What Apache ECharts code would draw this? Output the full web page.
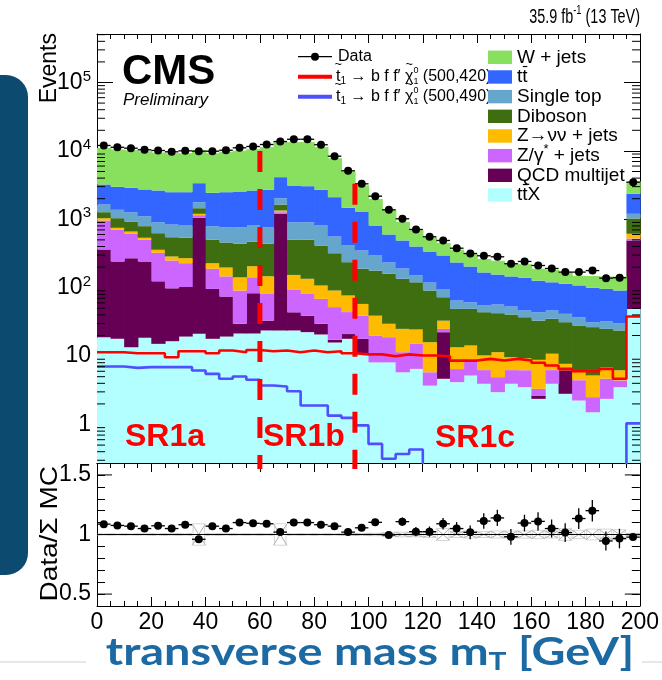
<!DOCTYPE html>
<html><head><meta charset="utf-8">
<script src="https://cdn.jsdelivr.net/npm/echarts@6/dist/echarts.min.js"></script>
<style>html,body{margin:0;padding:0;background:#fff;}#chart{width:662px;height:680px;}</style>
</head><body><div id="chart"></div>
<script>
// ================= DATA =================
const binLow = [0,5,10,15,20,25,30,35,40,45,50,55,60,65,70,75,80,85,90,95,100,105,110,115,120,125,130,135,140,145,150,155,160,165,170,175,180,185,190,195];
const binWidth = 5;
const dataEvents = [12000,11300,10950,10380,10140,9700,10020,9900,9900,10230,11100,11600,12400,13700,14800,14800,12300,8370,5120,3300,2180,1377,1017,710,555,490,378,316,293,283,224,242,211,191,169,169,178,138,140,3490];
// background components (stack order bottom -> top)
const ttX       = [18.9,17.9,13.5,18.5,15.1,16.5,19.3,21.2,17.9,19.3,21.4,21.4,23.7,23.7,23.7,22.4,20.7,15.8,17.9,10.8,8.1,8.1,5.8,6.5,3.7,4.66,4.16,5.2,3.94,2.97,3.94,3.51,2.37,3.94,2.81,2.24,1.51,2.37,3.51,49];
const qcd       = [343,224,256,224,109,81.5,83,1031,78,55,8.3,61.6,9.3,1176,20,16.6,9,1.5,3.1,7.1,0,0,0,0,0,17.7,0,0,0,0,0,0,0.28,0,3.4,0,0,0,0,441];
const zgamma    = [598,468,350,260,200,152,126,96,93,72,61,59,48,70,49,42,39,34.7,23,21,11.9,10.8,5.6,8.6,2.1,2.6,2.3,3.4,2.3,1.95,2.3,2.7,0.67,2.3,0,2.2,1.0,2.3,0.9,34];
const znunu     = [78,41,43,35,34,36,42,55,39,51,51,64,66,75,61,54,39,39,33,19,19,10.8,13.6,9.4,10.2,8,7,5.7,4,6.5,3.4,3.1,5.5,4.6,1.5,1.8,2.7,2.2,1.8,90];
const diboson   = [232,287,266,256,268,261,267,249,274,261,296,267,291,300,348,367,306,228,159,132,139,130,110,95.5,75,39.6,35.5,34.7,33.6,31,30.9,27.7,24.2,24.2,23.6,21.8,21.3,18.1,17.5,414];
const singleTop = [375,339,341,317,281,292,274,326,291,309,329,338,329,388,405,405,397,242,178,160,118,74,56,31,28,21.4,16,12,11.2,14.4,12.5,9.4,10.8,11.4,10.2,9,4.8,7.4,6.6,175];
const ttbar     = [1583,1608,1620,1620,1730,1651,1679,1594,1647,1723,1781,1826,1933,2097,2213,2141,1889,1544,1059,950,515,366,299,249,219,202,169,143,112,99,93,93.6,83,73.6,72.5,71,68.7,63.6,60.7,1157];
const wjets     = [7812,7515,7340,7160,6813,6750,6770,6938,6810,7250,7542,7963,8680,9300,10330,10400,8670,5715,3547,1825,1169,783,428,293,204,154,126,106,96,92,82,81,63,62,52,41,48,50,54,1210];
// signals
const sig500_420 = [11.4,11.4,11.0,11.0,11.0,9.6,11.8,11.8,11.0,12.1,11.4,12.3,11.8,12.1,11.4,12.1,11.4,11.8,11.0,10.6,10.6,9.95,10.6,10.2,10.2,9.95,8.6,8.6,9.1,8.6,9.1,8.6,8.0,7.3,6.5,6.0,6.0,6.5,4.66,38];
const sig500_490 = [7.05,7.05,6.73,6.9,6.9,6.9,6.9,6.16,5.5,4.66,5.03,4.5,3.72,3.59,3.07,1.9,1.9,1.35,1.25,0.97,0.52,0.315,0.37,0.43,0.12,0.12,0.12,0.12,0.12,0.12,0.12,0.12,0.12,0.12,0.12,0.12,0.12,0.12,0.12,1.04];
// ratio panel
const ratio    = [1.087,1.076,1.07,1.05,1.073,1.05,1.082,0.96,1.07,1.05,1.10,1.094,1.09,1.02,1.10,1.10,1.082,1.07,1.02,1.056,1.102,0.996,1.108,1.024,1.024,1.09,1.05,1.018,1.113,1.139,0.981,1.096,1.11,1.05,1.016,1.134,1.20,0.946,0.966,0.978];
const ratioErr = [0.01,0.01,0.01,0.01,0.01,0.01,0.01,0.01,0.01,0.01,0.01,0.01,0.01,0.01,0.01,0.01,0.01,0.012,0.014,0.018,0.024,0.027,0.035,0.038,0.043,0.049,0.054,0.057,0.065,0.068,0.066,0.07,0.076,0.076,0.078,0.087,0.09,0.08,0.082,0.017];
const mcRelUnc = [0.004,0.004,0.004,0.004,0.005,0.005,0.005,0.09,0.005,0.005,0.005,0.005,0.005,0.09,0.005,0.005,0.005,0.005,0.006,0.008,0.01,0.015,0.02,0.02,0.025,0.05,0.025,0.03,0.025,0.03,0.03,0.03,0.035,0.03,0.05,0.035,0.045,0.045,0.04,0.01];
// region boundaries [x, top of dashed line]
const regionLines = [[60, 10000],[95, 3300]];
const regionLabels = ['SR1a','SR1b','SR1c'];
const xTickLabels = [0,20,40,60,80,100,120,140,160,180,200];

// ================= STYLE =================
const F = '"Liberation Sans", Arial, Helvetica, sans-serif';
const yMin = 0.2736, yMax = 511700;
const colors = {ttX:'#b3ffff', qcd:'#660055', zgamma:'#cc66ff', znunu:'#ffbb00', diboson:'#3e6e10', singleTop:'#66a6cc', ttbar:'#3366ff', wjets:'#88e05e'};

const comps = [
  ['ttX', ttX], ['qcd', qcd], ['zgamma', zgamma], ['znunu', znunu],
  ['diboson', diboson], ['singleTop', singleTop], ['ttbar', ttbar], ['wjets', wjets]
];

const series = [];
let lower = binLow.map(() => yMin);
comps.forEach(([name, vals]) => {
  const upper = lower.map((l, i) => (l === yMin ? 0 : l) + vals[i]);
  const fixedUpper = upper.map((u, i) => Math.max(u, lower[i]));
  const data = binLow.map((x, i) => [x, x + binWidth, lower[i], fixedUpper[i]]);
  series.push({
    type: 'custom', name, xAxisIndex: 0, yAxisIndex: 0, silent: true, data,
    encode: {x: [0, 1], y: [2, 3]},
    renderItem(params, api) {
      const lo = api.value(2), hi = api.value(3);
      if (!(hi > lo)) return null;
      const a = api.coord([api.value(0), hi]);
      const b = api.coord([api.value(1), Math.max(lo, yMin)]);
      return {type: 'rect', shape: {x: a[0], y: a[1], width: b[0] - a[0] + 0.7, height: b[1] - a[1]}, style: {fill: colors[name]}};
    }
  });
  lower = fixedUpper;
});

function stepPoints(vals) {
  const pts = [];
  binLow.forEach((x, i) => { pts.push([x, vals[i]]); pts.push([x + binWidth, vals[i]]); });
  return pts;
}
series.push({type: 'line', xAxisIndex: 0, yAxisIndex: 0, data: stepPoints(sig500_420), symbol: 'none', silent: true,
  lineStyle: {color: '#ff0000', width: 2.6}, clip: true});
series.push({type: 'line', xAxisIndex: 0, yAxisIndex: 0, data: stepPoints(sig500_490), symbol: 'none', silent: true,
  lineStyle: {color: '#4f4fff', width: 2.6}, clip: true});

regionLines.forEach(([x, top]) => {
  series.push({type: 'line', xAxisIndex: 0, yAxisIndex: 0, data: [[x, top], [x, yMin]], symbol: 'none', silent: true,
    lineStyle: {color: '#ff0000', width: 5, type: [21, 17]}, clip: true});
  series.push({type: 'line', xAxisIndex: 1, yAxisIndex: 2, data: [[x, 1.6], [x, 1.55]], symbol: 'none', silent: true,
    lineStyle: {color: '#ff0000', width: 5}});
});

series.push({
  type: 'custom', name: 'Data', xAxisIndex: 0, yAxisIndex: 0, silent: true,
  data: binLow.map((x, i) => [x, x + binWidth, dataEvents[i]]), encode: {x: [0, 1], y: 2},
  renderItem(params, api) {
    const x0 = api.value(0), x1 = api.value(1), v = api.value(2);
    const l = api.coord([x0, v]), r = api.coord([x1, v]), c = api.coord([(x0 + x1) / 2, v]);
    return {type: 'group', children: [
      {type: 'line', shape: {x1: l[0], y1: l[1], x2: r[0], y2: r[1]}, style: {stroke: '#000', lineWidth: 1.3}},
      {type: 'circle', shape: {cx: c[0], cy: c[1], r: 4}, style: {fill: '#000'}}
    ]};
  }
});

const minorVals = [];
for (let k = -1; k <= 5; k++) for (let m = 2; m <= 9; m++) { const v = m * Math.pow(10, k); if (v > yMin && v < yMax) minorVals.push(v); }
series.push({
  type: 'custom', xAxisIndex: 0, yAxisIndex: 0, silent: true, z: 5, data: minorVals.map(v => [0, v]), encode: {x: 0, y: 1},
  renderItem(params, api) {
    const v = api.value(1); const l = api.coord([0, v]), r = api.coord([200, v]);
    return {type: 'group', children: [
      {type: 'line', shape: {x1: l[0], y1: l[1], x2: l[0] + 8, y2: l[1]}, style: {stroke: '#000', lineWidth: 1}},
      {type: 'line', shape: {x1: r[0], y1: r[1], x2: r[0] - 8, y2: r[1]}, style: {stroke: '#000', lineWidth: 1}}
    ]};
  }
});

series.push({
  type: 'custom', xAxisIndex: 1, yAxisIndex: 2, silent: true,
  data: binLow.map((x, i) => [x, x + binWidth, mcRelUnc[i]]), encode: {x: [0, 1], y: 2},
  renderItem(params, api) {
    const u = api.value(2);
    const a = api.coord([api.value(0), 1 + u]), b = api.coord([api.value(1), 1 - u]);
    return {type: 'group', children: [
      {type: 'line', shape: {x1: a[0], y1: a[1], x2: b[0], y2: b[1]}, style: {stroke: '#999', lineWidth: 0.8}},
      {type: 'line', shape: {x1: a[0], y1: b[1], x2: b[0], y2: a[1]}, style: {stroke: '#999', lineWidth: 0.8}},
      {type: 'rect', shape: {x: a[0] + 1, y: a[1], width: b[0] - a[0] - 2, height: b[1] - a[1]}, style: {fill: 'none', stroke: '#bbb', lineWidth: 0.6}}
    ]};
  }
});
series.push({type: 'line', xAxisIndex: 1, yAxisIndex: 2, data: [[0, 1], [200, 1]], symbol: 'none', silent: true,
  lineStyle: {color: '#000', width: 1.2}});
series.push({
  type: 'custom', xAxisIndex: 1, yAxisIndex: 2, silent: true,
  data: binLow.map((x, i) => [x, x + binWidth, ratio[i], ratioErr[i]]), encode: {x: [0, 1], y: 2},
  renderItem(params, api) {
    const x0 = api.value(0), x1 = api.value(1), r = api.value(2), e = api.value(3), xm = (x0 + x1) / 2;
    const l = api.coord([x0, r]), rr = api.coord([x1, r]), t = api.coord([xm, r + e]), b = api.coord([xm, r - e]), c = api.coord([xm, r]);
    return {type: 'group', children: [
      {type: 'line', shape: {x1: l[0], y1: l[1], x2: rr[0], y2: rr[1]}, style: {stroke: '#000', lineWidth: 1.3}},
      {type: 'line', shape: {x1: t[0], y1: t[1], x2: b[0], y2: b[1]}, style: {stroke: '#000', lineWidth: 1.3}},
      {type: 'circle', shape: {cx: c[0], cy: c[1], r: 4}, style: {fill: '#000'}}
    ]};
  }
});
series.push({
  type: 'custom', xAxisIndex: 1, yAxisIndex: 2, silent: true, data: [[0, 0.5], [0, 1], [0, 1.5]], encode: {x: 0, y: 1},
  renderItem(params, api) {
    const v = api.value(1); const l = api.coord([0, v]), r = api.coord([200, v]);
    return {type: 'group', children: [
      {type: 'line', shape: {x1: l[0], y1: l[1], x2: l[0] + 15, y2: l[1]}, style: {stroke: '#000', lineWidth: 1}},
      {type: 'line', shape: {x1: r[0], y1: r[1], x2: r[0] - 15, y2: r[1]}, style: {stroke: '#000', lineWidth: 1}}
    ]};
  }
});

// ================= AXES =================
const black = {color: '#000', width: 1};
function xAx(grid, pos, labels) {
  return {gridIndex: grid, type: 'value', position: pos, min: 0, max: 200, interval: 20,
    axisLine: {onZero: false, lineStyle: black},
    axisTick: {inside: true, length: 9, lineStyle: black},
    minorTick: {show: true, splitNumber: 4, length: 5, lineStyle: black},
    splitLine: {show: false},
    axisLabel: labels ? {show: true, fontFamily: F, fontSize: 23, color: '#000', margin: 5,
      formatter: v => xTickLabels.includes(v) ? String(v) : ''} : {show: false}};
}
const supRich = {b: {fontFamily: F, fontSize: 23, color: '#000'}, s: {fontFamily: F, fontSize: 15, color: '#000', padding: [0, 0, 12, 0]}};
function logLabel(v) {
  const e = Math.round(Math.log10(v));
  if (Math.abs(Math.log10(v) - e) > 1e-6) return '';
  if (e === 0) return '{b|1}';
  if (e === 1) return '{b|10}';
  return '{b|10}{s|' + e + '}';
}
function yLog(pos, labels) {
  return {gridIndex: 0, type: 'log', logBase: 10, position: pos, min: yMin, max: yMax,
    axisLine: {onZero: false, lineStyle: black},
    axisTick: {inside: true, length: 16, lineStyle: black},
    splitLine: {show: false},
    axisLabel: labels ? {show: true, formatter: logLabel, rich: supRich, margin: 6, showMinLabel: false, showMaxLabel: false} : {show: false}};
}
function yRatio(pos, labels) {
  return {gridIndex: 1, type: 'value', position: pos, min: 0.4, max: 1.6, interval: 0.1,
    axisLine: {onZero: false, lineStyle: black},
    axisTick: {inside: true, length: 8, lineStyle: black},
    splitLine: {show: false},
    axisLabel: labels ? {show: true, fontFamily: F, fontSize: 23, color: '#000', margin: 6,
      formatter: v => { const r = Math.round(v * 10) / 10; return r === 0.5 ? '0.5' : r === 1 ? '1' : r === 1.5 ? '1.5' : ''; }} : {show: false}};
}

// ================= TEXT / LEGEND =================
const ZT = 100;
const mctx = document.createElement('canvas').getContext('2d');
function tw(t, size, weight, fstyle, fam) { mctx.font = (fstyle || 'normal') + ' ' + (weight || 'normal') + ' ' + size + 'px ' + (fam || F); return mctx.measureText(t).width; }
function richText(pieces, x, y, o) {
  o = o || {};
  const fam = o.family || F, col = o.color || '#000';
  let cx = 0; const kids = [];
  pieces.forEach(p => {
    const size = p.size || o.size;
    const w = tw(p.t, size, o.weight, o.fstyle, fam);
    kids.push({type: 'text', z: ZT, x: cx, y: p.dy || 0, style: {text: p.t, fontSize: size, fontFamily: fam, fontWeight: o.weight || 'normal', fontStyle: o.fstyle || 'normal', fill: col, align: 'left', verticalAlign: 'middle'}});
    if (p.over) kids.push({type: 'text', z: ZT, x: cx + w / 2 + (p.odx || 0), y: (p.dy || 0) - size * 0.78, style: {text: p.over, fontSize: size * 0.8, fontFamily: fam, fill: col, align: 'center', verticalAlign: 'middle'}});
    if (p.bar) kids.push({type: 'line', z: ZT, shape: {x1: cx + w * 0.1, y1: -size * 0.55, x2: cx + w * 0.95, y2: -size * 0.55}, style: {stroke: col, lineWidth: 1.2}});
    if (!p.noAdv) cx += w;
  });
  const shift = o.align === 'right' ? -cx : o.align === 'center' ? -cx / 2 : 0;
  kids.forEach(k => { if (k.type === 'text') k.x += shift; else { k.shape.x1 += shift; k.shape.x2 += shift; } });
  return {type: 'group', x, y, z: ZT, rotation: o.rotation || 0, scaleX: o.sx || 1, scaleY: o.sy || 1, children: kids, silent: true};
}

const graphics = [];
graphics.push({type: 'rect', z: ZT, shape: {x: -20, y: 75, width: 48, height: 500, r: 22}, style: {fill: '#0d4a70'}, silent: true});
graphics.push({type: 'line', z: ZT, shape: {x1: 0, y1: 662, x2: 86, y2: 662}, style: {stroke: '#d0d0d0', lineWidth: 1}, silent: true});
graphics.push({type: 'line', z: ZT, shape: {x1: 642, y1: 662, x2: 662, y2: 662}, style: {stroke: '#d0d0d0', lineWidth: 1}, silent: true});

graphics.push(richText([{t: '35.9 fb'}, {t: '-1', size: 13, dy: -7}, {t: ' (13 TeV)'}], 640, 17, {size: 20, align: 'right', sx: 0.72}));
graphics.push(richText([{t: 'CMS'}], 122, 72, {size: 42, weight: 'bold'}));
graphics.push(richText([{t: 'Preliminary'}], 123, 100, {size: 17, fstyle: 'italic'}));
graphics.push(richText([{t: 'Events'}], 50, 33, {size: 23, align: 'right', rotation: Math.PI / 2}));
graphics.push(richText([{t: 'Data/\u03a3 MC'}], 50, 466, {size: 28, align: 'right', rotation: Math.PI / 2, sy: 0.85}));
graphics.push(richText([{t: regionLabels[0]}], 125, 437, {size: 32, weight: 'bold', color: '#ff0000'}));
graphics.push(richText([{t: regionLabels[1]}], 263, 437, {size: 32, weight: 'bold', color: '#ff0000'}));
graphics.push(richText([{t: regionLabels[2]}], 435, 438, {size: 32, weight: 'bold', color: '#ff0000'}));
graphics.push(richText([{t: 'transverse mass m'}, {t: 'T', size: 25, dy: 10}, {t: ' [GeV]'}], 370, 652, {size: 39, weight: 'bold', align: 'center', color: '#1c6aa3', family: 'Lato, "Open Sans", sans-serif', sx: 1.2}));

const LS = 16, RS = 19;
graphics.push({type: 'line', z: ZT, shape: {x1: 298, y1: 56.7, x2: 332, y2: 56.7}, style: {stroke: '#000', lineWidth: 1.3}, silent: true});
graphics.push({type: 'circle', z: ZT, shape: {cx: 315, cy: 56.7, r: 4}, style: {fill: '#000'}, silent: true});
graphics.push(richText([{t: 'Data'}], 338, 56.7, {size: LS}));
[[76.7, '#ff0000', '(500,420)'], [96.7, '#4f4fff', '(500,490)']].forEach(([y, c, m]) => {
  graphics.push({type: 'line', z: ZT, shape: {x1: 298, y1: y, x2: 332, y2: y}, style: {stroke: c, lineWidth: 4}, silent: true});
  graphics.push(richText([
    {t: 't', over: '~'}, {t: '1', size: 10, dy: 5}, {t: ' \u2192 b f f\u2032 '},
    {t: '\u03c7', over: '~'}, {t: '0', size: 9, dy: -6, noAdv: true}, {t: '1', size: 9, dy: 5}, {t: ' ' + m}
  ], 336, y, {size: LS}));
});
const legendRows = [
  ['wjets', [{t: 'W + jets'}]],
  ['ttbar', [{t: 't'}, {t: 't', bar: true}]],
  ['singleTop', [{t: 'Single top'}]],
  ['diboson', [{t: 'Diboson'}]],
  ['znunu', [{t: 'Z\u2192\u03bd\u03bd + jets'}]],
  ['zgamma', [{t: 'Z/\u03b3'}, {t: '*', size: 13, dy: -6}, {t: ' + jets'}]],
  ['qcd', [{t: 'QCD multijet'}]],
  ['ttX', [{t: 't'}, {t: 't', bar: true}, {t: 'X'}]]
];
legendRows.forEach(([k, pieces], i) => {
  const y = 57.3 + i * 19.67;
  graphics.push({type: 'rect', z: ZT, shape: {x: 488, y: y - 6.7, width: 24, height: 13.4}, style: {fill: colors[k]}, silent: true});
  graphics.push(richText(pieces, 517, y, {size: RS}));
});

const chart = echarts.init(document.getElementById('chart'), null, {renderer: 'canvas'});
chart.setOption({
  animation: false,
  backgroundColor: '#ffffff',
  grid: [
    {left: 97, right: 22, top: 34, height: 429},
    {left: 97, right: 22, top: 463, height: 143}
  ],
  xAxis: [xAx(0, 'bottom', false), xAx(1, 'bottom', true), xAx(0, 'top', false), xAx(1, 'top', false)],
  yAxis: [yLog('left', true), yLog('right', false), yRatio('left', true), yRatio('right', false)],
  series,
  graphic: {elements: graphics}
});
</script></body></html>
